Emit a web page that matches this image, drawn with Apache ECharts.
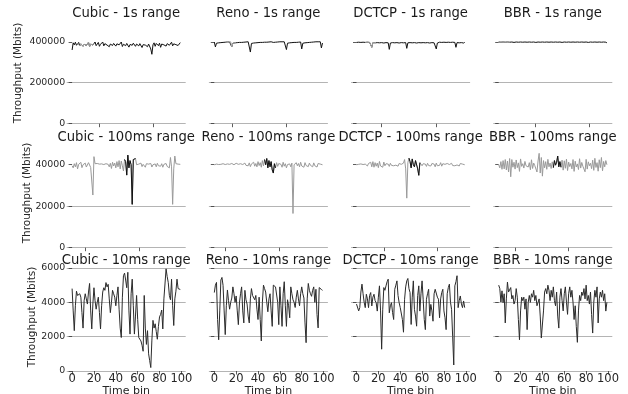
<!DOCTYPE html>
<html>
<head>
<meta charset="utf-8">
<script src="https://cdn.jsdelivr.net/npm/echarts@6/dist/echarts.min.js"></script>
<style>
  html, body { margin: 0; padding: 0; background: #fff; }
  #chart { width: 628px; height: 394px; }
</style>
</head>
<body>
<div id="chart"></div>
<script>
const algos = ["Cubic", "Reno", "DCTCP", "BBR"];
const ranges = ["1s", "100ms", "10ms"];

// 1s range (Mbits)
const cubic1s = [
  360000, 395000, 385000, 398000, 383000, 392000, 397000, 380000, 390000, 398000,
  378000, 388000, 396000, 382000, 391000, 398000, 376000, 389000, 396000, 384000,
  393000, 399000, 381000, 390000, 397000, 378000, 388000, 395000, 399000, 380000,
  391000, 398000, 384000, 393000, 376000, 389000, 397000, 382000, 392000, 398000,
  379000, 390000, 396000, 385000, 394000, 399000, 377000, 388000, 395000, 381000,
  392000, 398000, 374000, 387000, 396000, 383000, 393000, 399000, 378000, 389000,
  397000, 380000, 391000, 398000, 372000, 386000, 395000, 384000, 392000, 376000,
  389000, 396000, 365000, 339000, 385000, 395000, 378000, 392000, 399000, 381000,
  393000, 373000, 389000, 397000, 385000, 394000, 379000, 391000, 398000, 383000,
  392000, 398000, 380000, 390000, 397000, 386000, 394000, 382000, 391000, 396000
];
const reno1s = [
  399000, 375000, 393000, 394000, 395000, 396000, 396000, 397000, 397000, 398000,
  398000, 398000, 399000, 399000, 399000, 400000, 375000, 393000, 394000, 395000,
  395000, 396000, 396000, 397000, 397000, 397000, 398000, 398000, 398000, 399000,
  399000, 400000, 400000, 350000, 392000, 393000, 394000, 395000, 395000, 396000,
  396000, 396000, 397000, 397000, 397000, 398000, 398000, 398000, 398000, 399000,
  399000, 399000, 400000, 400000, 397000, 398000, 398000, 398000, 399000, 399000,
  400000, 400000, 400000, 400000, 400000, 400000, 362000, 393000, 394000, 395000,
  395000, 396000, 396000, 397000, 397000, 397000, 398000, 398000, 399000, 399000,
  365000, 393000, 394000, 395000, 396000, 396000, 397000, 397000, 397000, 398000,
  398000, 399000, 399000, 400000, 400000, 400000, 400000, 400000, 370000, 394000
];
const dctcp1s = [
  397000, 395000, 398000, 396000, 397000, 394000, 398000, 396000, 397000, 395000,
  398000, 396000, 397000, 395000, 373000, 396000, 398000, 395000, 397000, 396000,
  398000, 395000, 397000, 396000, 398000, 394000, 397000, 396000, 398000, 395000,
  363000, 394000, 397000, 396000, 398000, 395000, 397000, 396000, 398000, 394000,
  397000, 396000, 398000, 395000, 397000, 396000, 368000, 395000, 397000, 396000,
  398000, 395000, 397000, 396000, 398000, 394000, 397000, 396000, 398000, 395000,
  397000, 396000, 398000, 395000, 397000, 396000, 398000, 394000, 397000, 396000,
  398000, 395000, 397000, 365000, 394000, 396000, 398000, 395000, 397000, 396000,
  398000, 394000, 397000, 396000, 398000, 395000, 397000, 396000, 398000, 395000,
  397000, 373000, 396000, 398000, 395000, 397000, 396000, 398000, 394000, 397000
];
const bbr1s = [
  399000, 394000, 398000, 395000, 399000, 393000, 398000, 396000, 399000, 394000,
  398000, 395000, 399000, 394000, 397000, 395000, 399000, 393000, 398000, 395000,
  399000, 394000, 398000, 396000, 399000, 394000, 398000, 395000, 399000, 393000,
  398000, 395000, 399000, 394000, 397000, 396000, 399000, 394000, 398000, 395000,
  399000, 393000, 398000, 395000, 399000, 394000, 398000, 396000, 399000, 394000,
  398000, 395000, 399000, 393000, 398000, 395000, 399000, 394000, 397000, 396000,
  399000, 394000, 398000, 395000, 399000, 393000, 398000, 395000, 399000, 394000,
  398000, 396000, 399000, 394000, 398000, 395000, 399000, 393000, 398000, 395000,
  399000, 394000, 397000, 396000, 399000, 394000, 398000, 395000, 399000, 393000,
  398000, 395000, 399000, 394000, 398000, 396000, 399000, 394000, 398000, 395000
];

// 100ms range (Mbits)
const cubic100ms = [
  39500, 38500, 40500, 39000, 41000, 38000, 40200, 39800, 41200, 38600,
  40000, 39300, 40800, 38900, 39600, 41000, 40300, 38700, 39400, 25400,
  43900, 40500, 39800, 40600, 39900, 40300, 39700, 40400, 39600, 40100,
  39500, 40500, 39800, 40200, 39000, 40700, 38200, 41200, 39400, 40800,
  38500, 41500, 39000, 42000, 38000, 41800, 39500, 37000, 42500, 41500,
  35000, 44650, 38500, 42000, 40000, 20900, 42500, 41800, 43000, 40000,
  39200, 40300, 39600, 40800, 39100, 40200, 39900, 38800, 40500, 39700,
  40300, 39400, 40600, 38900, 40000, 39600, 40400, 39000, 40700, 39500,
  40100, 39300, 40500, 38800, 40200, 39700, 40600, 39200, 40000, 38500,
  43500, 39000, 20900, 38000, 44200, 40500, 39800, 40300, 39600, 40200
];
const reno100ms = [
  40000, 39600, 40300, 39800, 40100, 39400, 40200, 39900, 40500, 39700,
  40100, 39300, 40400, 39800, 40200, 39500, 40600, 39900, 40000, 39300,
  40700, 39800, 40200, 39400, 40500, 39600, 40100, 39200, 40800, 39700,
  40300, 39500, 40900, 39100, 40400, 39800, 41200, 39300, 40600, 39000,
  41500, 39600, 41000, 38800, 42000, 39500, 42500, 40000, 43000, 38500,
  42000, 39000, 41500, 37500, 36000, 40500, 38500, 41000, 39200, 40600,
  39800, 40200, 38800, 41200, 39300, 40500, 38500, 40100, 39700, 40400,
  39000, 40800, 16500, 40000, 39200, 41000, 39500, 40600, 39000, 41200,
  39400, 40300, 38800, 41000, 39600, 40400, 39100, 40800, 39700, 40200,
  39000, 40900, 39500, 40400, 38900, 40600, 39800, 40300, 39600, 40000
];
const dctcp100ms = [
  40000, 39700, 40200, 39500, 40400, 39800, 40100, 39600, 40300, 40000,
  39400, 40600, 39800, 41200, 39000, 41500, 38800, 41000, 39300, 40800,
  38600, 41600, 39400, 40200, 38800, 41300, 39500, 40500, 39900, 40300,
  39200, 40700, 39700, 40100, 39500, 40400, 39800, 40200, 39300, 40600,
  39900, 40200, 39600, 40800, 42500, 38000, 23900, 41000, 43200, 41500,
  38500, 42800, 40000, 39000, 42000, 41500, 38000, 34900, 41000, 40200,
  39500, 40500, 39800, 40300, 39200, 40700, 39600, 40100, 39400, 40600,
  39800, 40300, 39000, 40800, 39500, 40400, 39700, 41000, 39300, 40500,
  39900, 40200, 39400, 40600, 39800, 40100, 39300, 40700, 39600, 40200,
  39500, 40400, 39900, 40100, 39400, 40600, 39700, 40300, 39800, 40000
];
const bbr100ms = [
  40000, 38500, 41500, 37800, 42000, 38000, 42500, 37500, 41800, 36500,
  43000, 34200, 42500, 38800, 41200, 37900, 42300, 38600, 40900, 36800,
  42800, 39200, 40500, 38400, 41600, 39500, 40200, 38900, 41000, 37600,
  42400, 38200, 40800, 39600, 40300, 36500, 41800, 45500, 36000, 43500,
  34500, 42000, 38500, 41500, 37800, 42600, 39000, 40800, 38200, 41400,
  38600, 42000, 39800, 41200, 44200, 39000, 41500, 38800, 42200, 37400,
  41900, 38300, 42700, 37200, 41300, 39100, 40600, 38000, 42500, 36800,
  41700, 38900, 40400, 37700, 42900, 38400, 41100, 39300, 40200, 36600,
  42600, 37900, 41400, 39500, 40700, 38100, 42200, 37300, 43100, 38700,
  41000, 36900, 42400, 38600, 43500, 37100, 41600, 39000, 42000, 40000
];

// 10ms range (Mbits)
const cubic10ms = [
  4800, 3500, 2350, 3800, 4650, 4400, 4450, 4500, 4300, 3400,
  2500, 4100, 4500, 4200, 3900, 4600, 5100, 3500, 2450, 3900,
  4850, 4100, 3600, 4000, 4300, 3400, 2450, 3800, 4600, 4850,
  4700, 5150, 4900, 5050, 4200, 3400, 4000, 4700, 4500, 4300,
  3800, 4400, 4900, 3600, 2500, 1950, 4300, 5550, 5700, 5300,
  4850, 5750, 3500, 2150, 4500, 5350, 3800, 2150, 3200, 4400,
  3000, 1950, 2000, 1750, 1500, 1150, 4400, 2500, 1550, 2350,
  1000, 600, 200, 1800, 2950, 2500, 2750, 2300, 1850, 2600,
  3150, 3300, 3550, 2450, 4200, 4100, 5950, 5500, 5150, 4400,
  4150, 5350, 3800, 2650, 4200, 4650, 5350, 4800, 4750, 4750
];
const reno10ms = [
  4570, 5000, 5160, 3000, 1820, 3500, 5300, 5450, 4990, 3500,
  2120, 3800, 4720, 4100, 3600, 4000, 4250, 4900, 4500, 4000,
  4370, 3500, 2700, 3970, 4500, 4900, 3500, 2800, 4700, 4150,
  3900, 3200, 2800, 4200, 4800, 4400, 4300, 4150, 4400, 3600,
  3000, 4300, 3000, 1750, 4000, 5000, 4800, 4600, 4000, 3450,
  4200, 4500, 3500, 2600, 5000, 4950, 4900, 5000, 4000, 2700,
  4900, 3800, 2600, 4500, 5200, 3800, 2600, 4150, 3800, 3100,
  4900, 4500, 4150, 4000, 3700, 4300, 4700, 4200, 3800, 4500,
  4900, 4500, 4250, 2800, 1650, 4200, 5100, 4700, 4500, 4350,
  4700, 4900, 4000, 4760, 3290, 2510, 4860, 4800, 4750, 4700
];
const dctcp10ms = [
  3900, 3880, 3500, 3700, 4600, 5060, 4500, 4000, 3690, 4470,
  4200, 3690, 4400, 4570, 3790, 4300, 4470, 4100, 3980, 3490,
  4300, 4960, 3500, 1270, 3600, 4860, 4700, 4960, 5200, 5350,
  3390, 3800, 3980, 3400, 3000, 4760, 5000, 5250, 4400, 3980,
  3700, 3590, 3000, 2260, 4180, 4900, 5250, 5390, 4800, 4570,
  2710, 4300, 5250, 3590, 3200, 2610, 4400, 4960, 3490, 4500,
  5250, 4180, 3000, 2410, 4180, 4500, 4760, 3200, 3880, 3500,
  2900, 4500, 4760, 4670, 4300, 4180, 3100, 4200, 4570, 4760,
  3500, 3100, 2410, 4500, 4860, 5060, 4000, 3590, 2000, 350,
  4960, 5200, 5550, 3690, 4100, 4370, 3900, 3690, 4080, 3690
];
const bbr10ms = [
  5000, 4800, 4020, 4670, 3980, 4500, 2800, 4200, 5180, 4600,
  4570, 4860, 4200, 4400, 3900, 4100, 4800, 4300, 3000, 1820,
  3500, 4300, 4100, 4300, 3600, 4200, 2410, 4000, 4400, 4000,
  4500, 4300, 4700, 4100, 4400, 3800, 4000, 4200, 3200, 1920,
  1900, 3500, 4600, 4800, 4500, 5000, 4700, 4100, 4700, 4300,
  4900, 4100, 3800, 4600, 3200, 2500, 4300, 4800, 4100, 3500,
  4500, 4900, 4000, 3300, 4500, 4900, 4300, 4700, 4000, 3000,
  3800, 2600, 1670, 3500, 4400, 4100, 4600, 4400, 4800, 4200,
  5000, 4100, 4400, 3900, 4600, 3300, 2210, 4000, 4700, 4300,
  4900, 2800, 4200, 4600, 4300, 4700, 4100, 4500, 3490, 4000
];

// ticks
const yTicks1s = [0, 200000, 400000];
const yTicks100ms = [0, 20000, 40000];
const yTicks10ms = [0, 2000, 4000, 6000];
const xTicks1s = [[25, 74], [16, 66], [23, 73], [33, 83]];
const xTicks100ms = [[12, 61], [10, 59], [25, 74], [15, 64]];
const xTicks10ms = [0, 20, 40, 60, 80, 100];

// highlighted window (first/last bin) in each panel
const window1s = [[5, 20], [11, 20], [8, 18], [0, 10]];
const window100ms = [[48, 58], [46, 56], [48, 58], [50, 57]];

const FONT = "DejaVu Sans";
const rows = [
  { top: 37.7, height: 86, max: 420000, yTicks: yTicks1s, xTicks: xTicks1s, win: window1s,
    data: [cubic1s, reno1s, dctcp1s, bbr1s], base: "#111111", hi: "#a6a6a6",
    nameX: 18, nameY: 73, titleY: 14 },
  { top: 152.3, height: 95.4, max: 46000, yTicks: yTicks100ms, xTicks: xTicks100ms, win: window100ms,
    data: [cubic100ms, reno100ms, dctcp100ms, bbr100ms], base: "#9a9a9a", hi: "#111111",
    nameX: 27, nameY: 193, titleY: 137.5 },
  { top: 268, height: 103, max: 6000, yTicks: yTicks10ms, xTicks: null, win: null,
    data: [cubic10ms, reno10ms, dctcp10ms, bbr10ms], base: "#2b2b2b", hi: null,
    nameX: 32, nameY: 317, titleY: 261 }
];

const grids = [], xAxes = [], yAxes = [], series = [], graphics = [];
rows.forEach((row, r) => {
  algos.forEach((algo, c) => {
    const k = grids.length;
    const left = 66.7 + 142.2 * c, width = 119;
    grids.push({ left: left, top: row.top, width: width, height: row.height, outerBoundsMode: "none" });
    const lastRow = r === 2;
    const xt = lastRow ? xTicks10ms : row.xTicks[c];
    xAxes.push({
      type: "value", gridIndex: k, min: -4.95, max: 103.95,
      axisLine: { show: false },
      axisTick: { show: true, length: 3.5, customValues: xt, lineStyle: { color: "#333", width: 0.8 } },
      axisLabel: { show: lastRow, customValues: xt, margin: 2, fontSize: 11.5, color: "#262626", fontFamily: FONT },
      splitLine: { show: false },
      name: lastRow ? "Time bin" : "", nameLocation: "middle", nameGap: 10,
      nameTextStyle: { fontSize: 11, color: "#262626", fontFamily: FONT, verticalAlign: "top" }
    });
    yAxes.push({
      type: "value", gridIndex: k, min: 0, max: row.max, interval: row.yTicks[1],
      axisLine: { show: false },
      axisTick: { show: true, length: 3.5, customValues: row.yTicks, lineStyle: { color: "#333", width: 0.8 } },
      axisLabel: { show: c === 0, customValues: row.yTicks, margin: 1.5, fontSize: 9.4, color: "#262626",
                   fontFamily: FONT, formatter: v => String(v) },
      splitLine: { show: true, showMaxLine: row.max === row.yTicks[row.yTicks.length - 1], lineStyle: { color: "#b4b4b4", width: 1 } }
    });
    const vals = row.data[c];
    series.push({
      type: "line", xAxisIndex: k, yAxisIndex: k, showSymbol: false, silent: true,
      lineStyle: { color: row.base, width: 1 }, z: 2,
      data: vals.map((v, i) => [i, v])
    });
    if (row.win) {
      const w = row.win[c];
      series.push({
        type: "line", xAxisIndex: k, yAxisIndex: k, showSymbol: false, silent: true,
        lineStyle: { color: row.hi, width: 1 }, z: 3,
        data: vals.map((v, i) => [i, (i >= w[0] && i <= w[1]) ? v : null])
      });
    }
    graphics.push({
      type: "text", x: left + width / 2, y: row.titleY,
      style: { text: algo + " - " + ranges[r] + " range", fontSize: 13.2, fontFamily: FONT, fill: "#1a1a1a",
               align: "center", verticalAlign: "middle" }
    });
  });
  graphics.push({
    type: "text", x: row.nameX, y: row.nameY, rotation: Math.PI / 2,
    style: { text: "Throughput (Mbits)", fontSize: 10.5, fontFamily: FONT, fill: "#262626",
             align: "center", verticalAlign: "middle" }
  });
});

const chart = echarts.init(document.getElementById("chart"));
chart.setOption({
  animation: false,
  backgroundColor: "#fff",
  textStyle: { fontFamily: FONT },
  grid: grids,
  xAxis: xAxes,
  yAxis: yAxes,
  series: series,
  graphic: graphics
});
</script>
</body>
</html>
